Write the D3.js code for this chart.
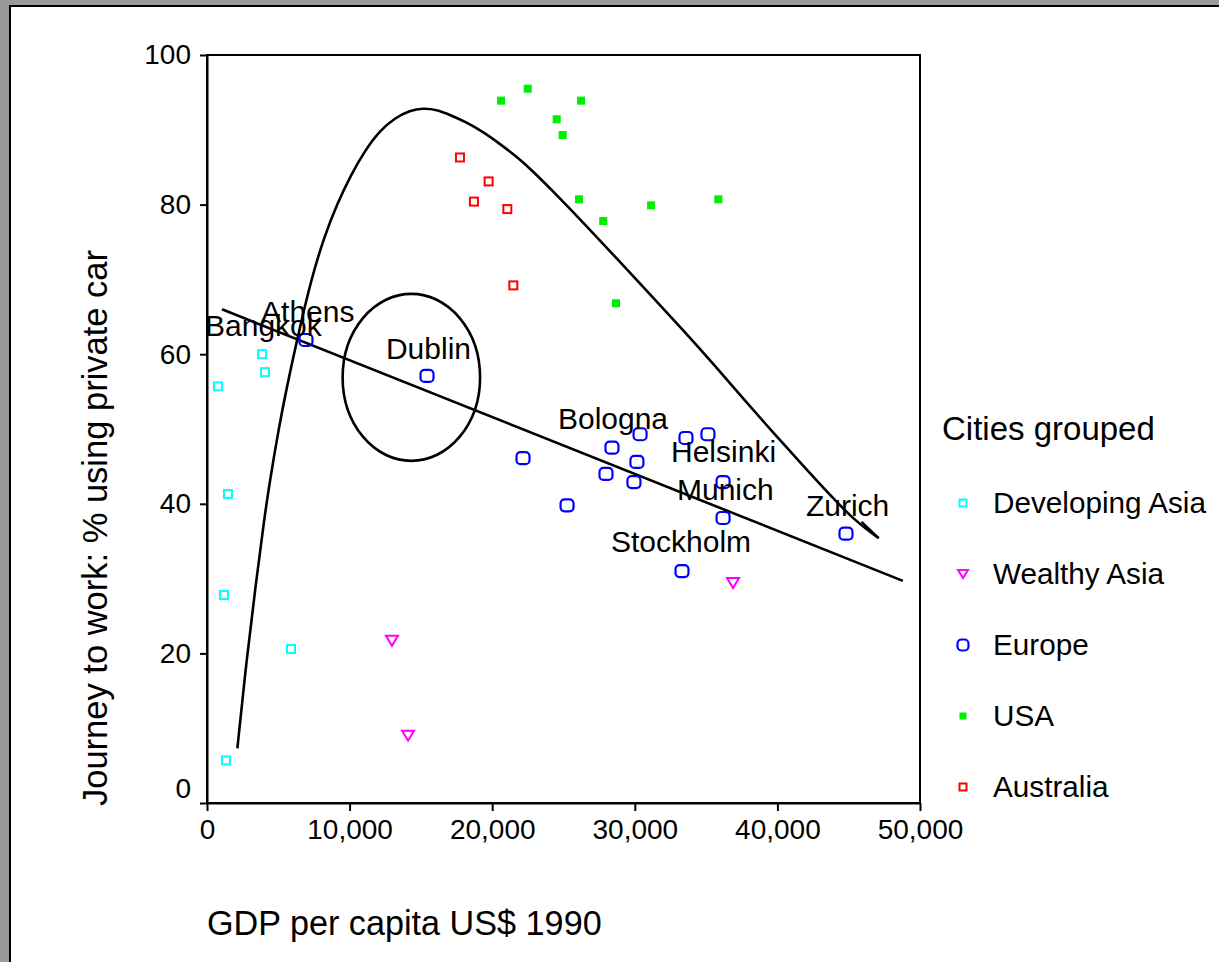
<!DOCTYPE html>
<html><head><meta charset="utf-8">
<script src="https://cdn.jsdelivr.net/npm/d3@7/dist/d3.min.js"></script>
<style>
html,body{margin:0;padding:0;background:#9a9a9a;}
svg{display:block;font-family:"Liberation Sans",Arial,sans-serif;}
</style></head>
<body>
<svg id="chart" width="1219" height="962"></svg>
<script>
// ---------- data ----------
const groups = ["Developing Asia","Wealthy Asia","Europe","USA","Australia"];
const xTicks = [0,10000,20000,30000,40000,50000];
const yTicks = [0,20,40,60,80,100];

const developingAsia = [[770,55.7],[3860,60.0],[4070,57.6],[1470,41.3],[1190,27.8],[5890,20.6],[1330,5.7]];
const wealthyAsia = [[12970,21.7],[14100,9.0],[36890,29.4]];
const europe = [[6940,61.9],[15430,57.1],[22160,46.1],[25250,39.8],[28400,47.5],[30370,49.3],[30150,45.6],
  [27980,44.0],[29940,42.9],[33590,48.8],[35130,49.3],[36190,42.9],[36190,38.1],[33310,31.0],[44810,36.0]];
const usa = [[22490,95.5],[20620,93.9],[26230,93.9],[24520,91.4],[24940,89.3],[26090,80.7],[31140,79.9],
  [35860,80.7],[27790,77.8],[28680,66.8]];
const australia = [[17740,86.3],[19750,83.1],[18720,80.4],[21060,79.4],[21480,69.2]];

// trend line (straight) end points
const trendLine = [[1050,66.0],[48800,29.7]];
// freehand curve
const curvePts = [[2130,7.3],[2770,19.1],[3400,28.9],[4000,37.8],[4420,43.2],[5050,50.3],[5610,55.7],
  [6310,61.9],[7290,69.9],[8200,75.6],[9150,80.2],[10100,84.0],[11100,87.3],[12130,89.9],[13180,91.6],
  [14240,92.6],[15150,92.9],[16100,92.7],[17040,92.0],[18200,91.0],[19380,89.7],[20550,88.1],[21720,86.4],
  [22890,84.4],[24050,82.2],[26390,77.6],[28730,72.8],[31070,68.0],[33400,63.2],[35600,58.5],[37730,53.8],
  [39710,49.5],[41800,45.1],[43720,41.1],[45400,37.8],[47100,35.4]];
const curveHook = [[45900,37.6],[47100,35.4]];
// ellipse around Dublin: centre, radii in data units
const ellipse = {cx:14330, cy:56.9, rx:4820, ry:11.16};

const cityLabels = ["Bangkok","Athens","Dublin","Bologna","Helsinki","Munich","Stockholm","Zurich"];
const cityLabelX = [-140,3790,12550,24610,32540,32960,28330,42000];
const cityLabelY = [62.4,64.3,59.4,50.0,45.6,40.5,33.6,38.4];

// ---------- layout ----------
const svg = d3.select("#chart");
const X0=207, X1=920, Y0=803, Y1=55;
const x = d3.scaleLinear().domain([0,50000]).range([X0,X1]);
const y = d3.scaleLinear().domain([0,100]).range([Y0,Y1]);

// panel
svg.append("rect").attr("x",0).attr("y",0).attr("width",1219).attr("height",962).attr("fill","#9a9a9a");
svg.append("rect").attr("x",10).attr("y",6).attr("width",1220).attr("height",970)
  .attr("fill","#fff").attr("stroke","#000").attr("stroke-width",2);

// plot frame
svg.append("rect").attr("x",X0).attr("y",Y1).attr("width",X1-X0).attr("height",Y0-Y1)
  .attr("fill","none").attr("stroke","#000").attr("stroke-width",2);

// axes
const fmt = d3.format(",");
const xAxis = svg.append("g").attr("transform",`translate(0,${Y0})`)
  .call(d3.axisBottom(x).tickValues(xTicks).tickFormat(fmt).tickSize(8).tickSizeOuter(0).tickPadding(8));
const yAxis = svg.append("g").attr("transform",`translate(${X0},0)`)
  .call(d3.axisLeft(y).tickValues(yTicks).tickSize(7).tickSizeOuter(0).tickPadding(9));
[xAxis,yAxis].forEach(g=>{
  g.select(".domain").attr("stroke","#000").attr("stroke-width",2);
  g.selectAll(".tick line").attr("stroke","#000").attr("stroke-width",2);
  g.selectAll(".tick text").attr("fill","#000").style("font-size","28px").style("font-family","'Liberation Sans',Arial,sans-serif");
});
yAxis.selectAll(".tick").filter(d=>d===0).select("text").attr("dy","-0.2em");

// axis titles
svg.append("text").attr("x",207).attr("y",935).attr("font-size",34.2).text("GDP per capita US$ 1990");
svg.append("text").attr("transform","translate(107,528) rotate(-90)").attr("text-anchor","middle")
  .attr("font-size",34.5).text("Journey to work: % using private car");

// curves
const curveLine = d3.line().x(d=>x(d[0])).y(d=>y(d[1])).curve(d3.curveBasis);
const straight = d3.line().x(d=>x(d[0])).y(d=>y(d[1]));
svg.append("path").attr("d",curveLine(curvePts)).attr("fill","none").attr("stroke","#000").attr("stroke-width",2.6);
svg.append("path").attr("d",straight(curveHook)).attr("fill","none").attr("stroke","#000").attr("stroke-width",2.4);
svg.append("path").attr("d",straight(trendLine)).attr("fill","none").attr("stroke","#000").attr("stroke-width",2.6);
svg.append("ellipse").attr("cx",x(ellipse.cx)).attr("cy",y(ellipse.cy))
  .attr("rx",x(ellipse.cx+ellipse.rx)-x(ellipse.cx)).attr("ry",y(ellipse.cy)-y(ellipse.cy+ellipse.ry))
  .attr("fill","none").attr("stroke","#000").attr("stroke-width",2.6);

// marker drawers
function sqHollow(g,color,s){ g.append("rect").attr("x",-s/2).attr("y",-s/2).attr("width",s).attr("height",s).attr("fill","#fff").attr("stroke",color).attr("stroke-width",2); }
function sqFill(g,color,s){ g.append("rect").attr("x",-s/2).attr("y",-s/2).attr("width",s).attr("height",s).attr("fill",color).attr("stroke",color).attr("stroke-width",1); }
function rounded(g,color,w,h){ g.append("rect").attr("x",-w/2).attr("y",-h/2).attr("width",w).attr("height",h).attr("rx",4).attr("fill","none").attr("stroke",color).attr("stroke-width",2.2); }
function tri(g,color,w,h){ g.append("path").attr("d",`M${-w/2},${-h/2}L${w/2},${-h/2}L0,${h/2}Z`).attr("fill","none").attr("stroke",color).attr("stroke-width",2); }

const series = [
  {data:developingAsia, draw:g=>sqHollow(g,"#00ffff",8), leg:g=>sqHollow(g,"#00ffff",7)},
  {data:wealthyAsia, draw:g=>tri(g,"#ff00ff",12,10), leg:g=>tri(g,"#ff00ff",10,8)},
  {data:europe, draw:g=>rounded(g,"#0000ff",13,12), leg:g=>rounded(g,"#0000ff",11,11)},
  {data:usa, draw:g=>sqFill(g,"#00ee00",7), leg:g=>sqFill(g,"#00ee00",6)},
  {data:australia, draw:g=>sqHollow(g,"#ff0000",8), leg:g=>sqHollow(g,"#ff0000",7)}
];
series.forEach(s=>{
  svg.append("g").selectAll("g").data(s.data).join("g")
    .attr("transform",d=>`translate(${x(d[0])},${y(d[1])})`)
    .each(function(){ s.draw(d3.select(this)); });
});

// city labels
svg.append("g").selectAll("text").data(cityLabels).join("text")
  .attr("x",(d,i)=>x(cityLabelX[i])).attr("y",(d,i)=>y(cityLabelY[i]))
  .attr("font-size",30).attr("fill","#000").text(d=>d);

// legend
svg.append("text").attr("x",942).attr("y",440).attr("font-size",33).text("Cities grouped");
const lg = svg.append("g").selectAll("g").data(groups).join("g")
  .attr("transform",(d,i)=>`translate(963,${503+i*71})`);
lg.each(function(d,i){ series[i].leg(d3.select(this)); });
lg.append("text").attr("x",30).attr("y",10).attr("font-size",29.7).text(d=>d);
</script>
</body></html>
